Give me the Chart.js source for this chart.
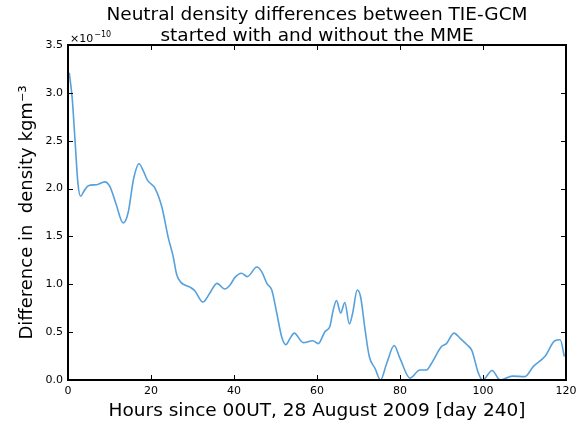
<!DOCTYPE html>
<html>
<head>
<meta charset="utf-8">
<script src="https://cdn.jsdelivr.net/npm/chart.js@4"></script>
<style>
  html, body { margin: 0; padding: 0; background: #ffffff; }
  #wrap { width: 584px; height: 426px; }
</style>
</head>
<body>
<div id="wrap"><canvas id="c" width="584" height="426"></canvas></div>
<script>
// Data (values in units of 1e-10 kg m^-3)
const hours = [0.3, 1.0, 1.7, 2.4, 3.05, 3.8, 4.9, 6.9, 8.9, 10.1, 11.5, 13.3, 14.5, 15.8, 17.1, 18.2, 19.1, 21, 22.6, 24.2,
  25.3, 26.2, 27.2, 29.4, 30.6, 32.5, 34.2, 35.9, 37.8, 39.0, 40.2, 41.8, 43.2, 45.5, 46.7, 47.9, 49.1, 50.3, 51.5, 52.5,
  53.5, 54.5, 56.7, 59, 60.3, 61.9, 63.1, 63.9, 64.7, 65.7, 66.7, 67.8, 68.6, 69.7, 70.5, 71.6, 72.6, 74, 75.3, 76.8,
  78.6, 80, 82.4, 84.8, 86.4, 87.6, 90, 91.2, 93, 94.5, 96.2, 97.3, 98.9, 99.9, 102.2, 104.1, 107.1, 110.1, 112.1, 115,
  117.3, 118.6, 119.6];
const densityDiff = [3.21, 2.95, 2.5, 2.05, 1.92, 1.97, 2.03, 2.04, 2.07, 2.02, 1.85, 1.64, 1.75, 2.1, 2.26, 2.18, 2.09, 2.0, 1.81, 1.48,
  1.3, 1.1, 1.02, 0.97, 0.93, 0.815, 0.91, 1.01, 0.95, 0.99, 1.07, 1.115, 1.08, 1.18, 1.13, 1.01, 0.94, 0.70, 0.45, 0.37,
  0.435, 0.49, 0.39, 0.41, 0.38, 0.505, 0.56, 0.73, 0.83, 0.70, 0.81, 0.585, 0.70, 0.94, 0.87, 0.52, 0.245, 0.12, 0.0, 0.175,
  0.36, 0.225, 0.02, 0.105, 0.105, 0.175, 0.35, 0.38, 0.49, 0.435, 0.365, 0.31, 0.07, 0.0, 0.1, 0.0, 0.04, 0.035, 0.14, 0.25,
  0.41, 0.42, 0.245];
const xTicks = [0, 20, 40, 60, 80, 100, 120];
const yTicks = [0.0, 0.5, 1.0, 1.5, 2.0, 2.5, 3.0, 3.5];
const titleLines = ["Neutral density differences between TIE-GCM", "started with and without the MME"];
const xLabel = "Hours since 00UT, 28 August 2009 [day 240]";
const yLabel = "Difference in  density kgm\u207B\u00B3";
const offsetBase = "\u00D710";
const offsetExp = "\u221210";

const FONT = "'DejaVu Sans', sans-serif";

const framePlugin = {
  id: 'frame',
  afterDraw(chart) {
    const ctx = chart.ctx;
    const a = chart.chartArea;
    const xs = chart.scales.x, ys = chart.scales.y;
    ctx.save();
    ctx.strokeStyle = '#000';
    ctx.lineWidth = 1;
    // inward ticks
    const tl = 5;
    ctx.beginPath();
    xTicks.forEach(v => {
      const px = Math.round(xs.getPixelForValue(v)) + 0.5;
      ctx.moveTo(px, a.bottom); ctx.lineTo(px, a.bottom - tl);
      ctx.moveTo(px, a.top); ctx.lineTo(px, a.top + tl);
    });
    yTicks.forEach(v => {
      const py = Math.round(ys.getPixelForValue(v)) + 0.5;
      ctx.moveTo(a.left, py); ctx.lineTo(a.left + tl, py);
      ctx.moveTo(a.right, py); ctx.lineTo(a.right - tl, py);
    });
    ctx.stroke();
    // frame
    ctx.lineWidth = 2;
    ctx.strokeRect(a.left, a.top, a.right - a.left, a.bottom - a.top);
    // title
    ctx.fillStyle = '#000';
    ctx.textAlign = 'center';
    ctx.textBaseline = 'middle';
    ctx.font = "18.5px " + FONT;
    const cx = (a.left + a.right) / 2;
    ctx.fillText(titleLines[0], cx, 15);
    ctx.fillText(titleLines[1], cx, 36);
    // offset text
    ctx.textAlign = 'left';
    ctx.textBaseline = 'alphabetic';
    ctx.font = "11px " + FONT;
    ctx.fillText(offsetBase, a.left + 2, a.top - 3);
    const w = ctx.measureText(offsetBase).width;
    ctx.font = "8px " + FONT;
    ctx.fillText(offsetExp, a.left + 2 + w + 1, a.top - 8);
    ctx.restore();
  }
};

new Chart(document.getElementById('c'), {
  type: 'line',
  data: {
    datasets: [{
      data: hours.map((h, i) => ({ x: h, y: densityDiff[i] })),
      borderColor: 'rgb(86,160,220)',
      borderWidth: 1.6,
      pointRadius: 0,
      fill: false,
      cubicInterpolationMode: 'monotone'
    }]
  },
  options: {
    responsive: false,
    animation: false,
    devicePixelRatio: 1,
    layout: { padding: { top: 45, right: 18, left: 0, bottom: 0 } },
    plugins: { legend: { display: false }, tooltip: { enabled: false }, title: { display: false } },
    scales: {
      x: {
        type: 'linear', min: 0, max: 120,
        afterBuildTicks(scale) { scale.ticks = xTicks.map(v => ({ value: v })); },
        afterFit(scale) { scale.height = 46; },
        grid: { display: false, drawTicks: false },
        border: { display: false },
        ticks: { color: '#000', padding: 5, font: { family: FONT, size: 11 }, maxRotation: 0, callback: v => String(v) },
        title: { display: true, text: xLabel, color: '#000', font: { family: FONT, size: 18.5 }, padding: { top: 0, bottom: 4 } }
      },
      y: {
        type: 'linear', min: 0, max: 3.5,
        afterBuildTicks(scale) { scale.ticks = yTicks.map(v => ({ value: v })); },
        afterFit(scale) { scale.width = 68; },
        grid: { display: false, drawTicks: false },
        border: { display: false },
        ticks: { color: '#000', padding: 5, font: { family: FONT, size: 11 }, callback: v => Number(v).toFixed(1) },
        title: { display: true, text: yLabel, color: '#000', font: { family: FONT, size: 18 }, padding: { top: 17, bottom: 0 } }
      }
    }
  },
  plugins: [framePlugin]
});
</script>
</body>
</html>
